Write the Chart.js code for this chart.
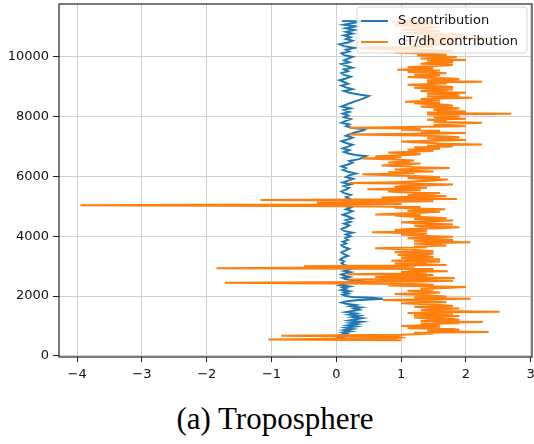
<!DOCTYPE html>
<html>
<head>
<meta charset="utf-8">
<script src="https://cdn.jsdelivr.net/npm/chart.js@4.4.1/dist/chart.umd.min.js"></script>
<style>
  html, body { margin: 0; padding: 0; background: #fff; }
  #wrap { position: relative; width: 534px; height: 444px; }
  #c { position: absolute; left: 0; top: 0; }
  #caption {
    position: absolute; left: 0; width: 550px; top: 401px;
    text-align: center; font-family: "Liberation Serif", serif; font-size: 31px; color: #000;
  }
</style>
</head>
<body>
<div id="wrap">
  <canvas id="c" width="534" height="382"></canvas>
  <div id="caption">(a) Troposphere</div>
</div>
<script>
// S contribution (blue): [height m, value]
const sProfile = [
  [500, 0.10], [540, 0.08], [580, 0.12], [620, 0.05], [660, 0.14], [700, 0.08], [740, 0.16], [780, 0.10], [820, 0.22], [860, 0.12],
  [900, 0.25], [940, 0.15], [980, 0.30], [1020, 0.18], [1060, 0.32], [1100, 0.22], [1140, 0.38], [1180, 0.20], [1220, 0.30], [1260, 0.40],
  [1300, 0.25], [1340, 0.35], [1380, 0.20], [1420, 0.30], [1460, 0.15], [1500, 0.25], [1540, 0.35], [1580, 0.28], [1620, 0.38], [1660, 0.22],
  [1700, 0.30], [1740, 0.15], [1780, 0.08], [1820, 0.15], [1860, 0.30], [1890, 0.60], [1910, 0.72], [1940, 0.55], [1970, 0.25], [2000, 0.15],
  [2040, 0.10], [2080, 0.18], [2120, 0.12], [2160, 0.20], [2200, 0.08], [2240, 0.15], [2280, 0.10], [2320, 0.20], [2360, 0.06], [2400, 0.12],
  [2440, 0.22], [2480, 0.45], [2520, 0.30], [2560, 0.15], [2600, 0.10], [2640, 0.20], [2680, 0.12], [2720, 0.08], [2760, 0.15], [2800, 0.22],
  [2840, 0.12], [2880, 0.18], [2920, 0.25], [2960, 0.38], [3000, 0.20], [3040, 0.12], [3100, 0.08], [3160, 0.12], [3220, 0.06], [3280, 0.10],
  [3340, 0.18], [3400, 0.12], [3460, 0.08], [3520, 0.14], [3580, 0.20], [3640, 0.12], [3700, 0.08], [3760, 0.15], [3820, 0.10], [3880, 0.18],
  [3940, 0.14], [4000, 0.22], [4060, 0.15], [4120, 0.25], [4180, 0.12], [4240, 0.08], [4300, 0.15], [4360, 0.20], [4420, 0.12], [4480, 0.22],
  [4540, 0.15], [4600, 0.25], [4660, 0.18], [4720, 0.10], [4780, 0.18], [4840, 0.25], [4900, 0.15], [4960, 0.22], [5020, 0.12], [5080, 0.25],
  [5140, 0.18], [5200, 0.10], [5260, 0.20], [5320, 0.15], [5380, 0.22], [5440, 0.12], [5500, 0.08], [5560, 0.15], [5620, 0.20], [5680, 0.12],
  [5740, 0.22], [5800, 0.10], [5860, 0.18], [5920, 0.26], [5980, 0.15], [6040, 0.20], [6100, 0.30], [6160, 0.18], [6220, 0.10], [6280, 0.15],
  [6340, 0.08], [6400, 0.18], [6460, 0.25], [6520, 0.20], [6580, 0.35], [6640, 0.42], [6680, 0.46], [6720, 0.30], [6760, 0.20], [6820, 0.12],
  [6880, 0.20], [6940, 0.10], [7000, 0.18], [7060, 0.25], [7120, 0.15], [7180, 0.08], [7240, 0.18], [7300, 0.25], [7360, 0.15], [7420, 0.22],
  [7480, 0.30], [7540, 0.42], [7580, 0.45], [7620, 0.25], [7680, 0.15], [7740, 0.20], [7800, 0.08], [7860, 0.15], [7920, 0.22], [7980, 0.12],
  [8040, 0.18], [8100, 0.10], [8160, 0.20], [8220, 0.12], [8280, 0.22], [8340, 0.08], [8400, 0.15], [8460, 0.22], [8520, 0.30], [8580, 0.38],
  [8640, 0.45], [8690, 0.50], [8740, 0.35], [8800, 0.20], [8860, 0.12], [8920, 0.25], [8980, 0.15], [9040, 0.08], [9100, 0.18], [9160, 0.12],
  [9220, 0.05], [9280, 0.15], [9340, 0.22], [9400, 0.12], [9460, 0.08], [9520, 0.18], [9580, 0.12], [9640, 0.25], [9700, 0.15], [9760, 0.08],
  [9820, 0.20], [9880, 0.12], [9940, 0.18], [10000, 0.25], [10060, 0.12], [10120, 0.08], [10180, 0.20], [10240, 0.15], [10300, 0.28], [10360, 0.12],
  [10420, 0.05], [10480, 0.18], [10540, 0.25], [10600, 0.15], [10660, 0.22], [10720, 0.12], [10780, 0.25], [10840, 0.15], [10900, 0.28], [10960, 0.15],
  [11020, 0.30], [11080, 0.12], [11140, 0.28], [11190, 0.37], [11200, 0.09]
];

// dT/dh contribution (orange): [height m, value]
const tProfile = [
  [520, 1.00], [545, -1.05], [585, 0.90], [610, 1.00], [630, 0.95], [670, -0.85], [705, 1.00], [730, 1.30], [750, 1.50], [775, 1.20],
  [800, 2.35], [825, 1.50], [850, 1.40], [875, 1.90], [900, 1.80], [925, 1.10], [950, 1.30], [975, 1.60], [1000, 1.00], [1025, 1.40],
  [1050, 1.60], [1070, 1.30], [1090, 1.90], [1110, 1.50], [1130, 2.26], [1155, 1.30], [1180, 1.40], [1205, 1.90], [1230, 1.80], [1255, 1.40],
  [1280, 1.20], [1305, 1.60], [1330, 1.90], [1355, 1.20], [1380, 1.50], [1405, 1.80], [1430, 1.10], [1450, 1.50], [1470, 2.52], [1495, 1.60],
  [1520, 1.30], [1550, 1.50], [1580, 1.90], [1610, 1.40], [1640, 1.20], [1670, 1.80], [1700, 1.60], [1730, 1.30], [1760, 1.00], [1790, 1.70],
  [1820, 1.50], [1845, 1.20], [1870, 0.72], [1890, 1.50], [1910, 2.07], [1935, 1.40], [1960, 1.20], [1985, 1.70], [2010, 1.50], [2040, 1.20],
  [2070, 0.90], [2095, 1.40], [2120, 1.60], [2150, 1.30], [2180, 1.10], [2210, 1.50], [2240, 1.30], [2270, 1.70], [2300, 2.00], [2325, 1.30],
  [2350, 0.80], [2375, 1.50], [2400, 1.20], [2440, -1.72], [2470, 0.40], [2490, 1.30], [2510, 1.80], [2530, 1.10], [2550, 0.20], [2575, 1.20],
  [2600, 1.83], [2620, 1.30], [2640, 0.60], [2660, 1.40], [2680, 1.00], [2705, 1.50], [2730, 0.17], [2755, 1.10], [2780, 1.40], [2805, 1.00],
  [2830, 1.72], [2855, 1.30], [2880, 1.10], [2905, 1.50], [2930, -1.85], [2960, 0.30], [2980, 1.20], [3000, -0.50], [3020, 1.00], [3040, 1.70],
  [3065, 1.30], [3090, 0.90], [3110, 1.40], [3130, 1.20], [3155, 1.60], [3180, 0.85], [3205, 1.20], [3230, 1.60], [3255, 1.10], [3280, 1.00],
  [3305, 1.50], [3330, 1.40], [3350, 1.10], [3370, 0.95], [3395, 1.40], [3420, 1.50], [3445, 1.00], [3470, 0.90], [3500, 1.50], [3530, 1.30],
  [3565, 1.00], [3600, 0.60], [3630, 1.40], [3660, 1.20], [3690, 1.70], [3720, 1.50], [3760, 1.20], [3800, 2.07], [3825, 1.40], [3850, 1.20],
  [3875, 1.80], [3900, 1.60], [3930, 1.10], [3960, 1.30], [3980, 1.80], [4000, 1.50], [4030, 1.20], [4060, 1.00], [4095, 1.40], [4130, 0.55],
  [4155, 1.20], [4180, 1.40], [4210, 0.90], [4240, 1.10], [4270, 1.60], [4300, 1.90], [4330, 1.30], [4360, 1.20], [4390, 1.80], [4420, 1.60],
  [4445, 1.20], [4470, 1.00], [4500, 1.50], [4530, 1.80], [4555, 1.40], [4580, 1.20], [4605, 1.70], [4630, 1.50], [4660, 1.10], [4690, 0.90],
  [4710, 1.30], [4730, 0.60], [4760, 1.00], [4790, 1.30], [4820, 1.60], [4850, 1.10], [4875, 1.40], [4900, 1.68], [4925, 1.20], [4950, 0.90],
  [4975, 1.30], [5000, 0.20], [5040, -3.95], [5080, 1.00], [5120, -0.30], [5170, 1.50], [5210, -1.17], [5250, 1.86], [5275, 1.30], [5300, 0.70],
  [5325, 1.20], [5350, 1.70], [5375, 1.10], [5400, 1.20], [5425, 1.50], [5450, 1.60], [5475, 1.00], [5500, 0.80], [5535, 1.30], [5570, 0.48],
  [5595, 1.10], [5620, 1.40], [5650, 0.90], [5680, 1.00], [5705, 1.50], [5730, 1.80], [5755, 1.20], [5780, 0.20], [5805, 0.90], [5830, 1.20],
  [5865, 1.50], [5900, 1.72], [5925, 1.30], [5950, 1.10], [5975, 1.60], [6000, 1.40], [6035, 0.90], [6070, 0.40], [6095, 1.00], [6120, 1.20],
  [6145, 0.80], [6170, 1.50], [6200, 1.10], [6230, 0.90], [6255, 1.30], [6280, 1.75], [6305, 1.20], [6330, 1.14], [6365, 0.70], [6400, 1.00],
  [6435, 1.30], [6470, 0.80], [6500, 1.10], [6530, 1.20], [6565, 0.90], [6600, 0.40], [6625, 0.80], [6650, 1.00], [6675, 0.60], [6700, 0.90],
  [6725, 1.20], [6750, 1.30], [6775, 1.00], [6800, 0.80], [6830, 1.20], [6860, 1.50], [6895, 1.10], [6930, 1.60], [6955, 1.30], [6980, 1.20],
  [7005, 1.80], [7030, 1.40], [7050, 1.70], [7070, 2.25], [7095, 1.60], [7120, 1.50], [7145, 1.20], [7170, 1.00], [7195, 1.50], [7220, 2.00],
  [7250, 1.60], [7280, 1.40], [7310, 1.90], [7340, 1.70], [7370, 1.30], [7400, 0.20], [7425, 1.20], [7450, 2.00], [7475, 1.50], [7500, 1.30],
  [7530, 1.60], [7560, 1.00], [7595, 1.30], [7630, 0.20], [7655, 1.10], [7680, 2.00], [7710, 1.50], [7740, 1.60], [7770, 1.90], [7800, 2.25],
  [7830, 1.50], [7860, 1.70], [7895, 1.40], [7930, 2.00], [7955, 1.60], [7980, 1.50], [8010, 1.90], [8040, 1.80], [8070, 1.40], [8100, 2.70],
  [8120, 1.60], [8140, 1.40], [8155, 1.80], [8170, 2.00], [8200, 1.60], [8230, 1.50], [8255, 1.80], [8280, 1.90], [8310, 1.50], [8340, 1.30],
  [8370, 1.80], [8400, 1.70], [8425, 1.40], [8450, 1.20], [8475, 1.60], [8500, 1.06], [8530, 1.40], [8560, 1.60], [8595, 1.30], [8630, 2.10],
  [8655, 1.60], [8680, 1.40], [8710, 1.90], [8740, 1.80], [8770, 1.40], [8800, 2.00], [8830, 1.60], [8860, 1.30], [8890, 1.70], [8920, 1.80],
  [8945, 1.40], [8970, 1.20], [8995, 1.80], [9020, 1.60], [9045, 1.30], [9070, 1.10], [9095, 1.50], [9120, 1.70], [9145, 1.40], [9170, 2.25],
  [9195, 1.60], [9220, 1.40], [9250, 1.90], [9280, 1.80], [9305, 1.40], [9330, 1.10], [9355, 1.50], [9380, 1.60], [9405, 1.20], [9430, 1.30],
  [9450, 1.70], [9470, 1.50], [9495, 1.10], [9520, 1.20], [9545, 1.60], [9570, 0.94], [9595, 1.40], [9620, 1.50], [9650, 1.10], [9680, 1.30],
  [9710, 1.70], [9740, 1.80], [9770, 1.30], [9800, 1.40], [9825, 1.80], [9850, 1.70], [9875, 1.40], [9900, 2.00], [9925, 1.60], [9950, 1.30],
  [9975, 1.70], [10000, 1.86], [10025, 1.50], [10050, 1.25], [10075, 1.70], [10100, 1.50], [10125, 1.20], [10150, 0.90], [10175, 1.40], [10200, 1.80],
  [10225, 1.50], [10250, 1.20], [10275, 0.70], [10300, 0.35], [10325, 1.00], [10350, 1.50], [10385, 1.20], [10420, 1.90], [10450, 1.50], [10480, 1.40],
  [10510, 1.80], [10540, 1.00], [10580, 1.60], [10620, 2.48], [10650, 1.70], [10680, 1.30], [10710, 1.60], [10740, 2.00], [10770, 1.50], [10800, 1.10],
  [10830, 1.40], [10860, 1.60], [10890, 1.30], [10920, 1.00], [10955, 1.40], [10990, 1.50], [11025, 1.20], [11060, 0.90], [11090, 1.30], [11120, 1.60],
  [11145, 1.20], [11170, 0.85], [11195, 1.10], [11220, 1.40]
];

const xTicks = [-4, -3, -2, -1, 0, 1, 2, 3];
const yTicks = [0, 2000, 4000, 6000, 8000, 10000];
const seriesNames = ['S contribution', 'dT/dh contribution'];
const seriesColors = ['#1f77b4', '#ff7f0e'];

const toPoints = prof => prof.map(([h, v]) => ({ x: v, y: h }));

// full box around the axes, like matplotlib spines
const frame = {
  id: 'frame',
  afterDatasetsDraw(chart) {
    const { ctx, chartArea: a } = chart;
    ctx.save();
    ctx.strokeStyle = '#222';
    ctx.lineWidth = 1.2;
    ctx.strokeRect(a.left, a.top, a.right - a.left, a.bottom - a.top);
    ctx.restore();
  }
};

// legend box in the upper right, drawn inside the axes
const boxLegend = {
  id: 'boxLegend',
  afterDatasetsDraw(chart) {
    const { ctx, chartArea: a } = chart;
    const w = 170, h = 46;
    const x0 = a.right - w - 5, y0 = a.top + 3;
    ctx.save();
    ctx.beginPath();
    ctx.roundRect(x0, y0, w, h, 3);
    ctx.fillStyle = 'rgba(255,255,255,0.8)';
    ctx.fill();
    ctx.strokeStyle = 'rgba(204,204,204,0.8)';
    ctx.lineWidth = 1;
    ctx.stroke();
    ctx.font = '13px "DejaVu Sans"';
    ctx.textBaseline = 'middle';
    seriesNames.forEach((name, i) => {
      const yy = y0 + 14 + i * 21;
      ctx.strokeStyle = seriesColors[i];
      ctx.lineWidth = 2;
      ctx.beginPath();
      ctx.moveTo(x0 + 4, yy);
      ctx.lineTo(x0 + 31, yy);
      ctx.stroke();
      ctx.fillStyle = '#111';
      ctx.fillText(name, x0 + 41, yy);
    });
    ctx.restore();
  }
};

new Chart(document.getElementById('c'), {
  type: 'scatter',
  data: {
    datasets: [
      { label: seriesNames[0], data: toPoints(sProfile), showLine: true, borderColor: seriesColors[0],
        borderWidth: 2, pointRadius: 0, order: 2 },
      { label: seriesNames[1], data: toPoints(tProfile), showLine: true, borderColor: seriesColors[1],
        borderWidth: 2, pointRadius: 0, order: 1 }
    ]
  },
  options: {
    responsive: false,
    animation: false,
    layout: { padding: { top: 4, right: 2, left: 0, bottom: 0 } },
    plugins: { legend: { display: false }, tooltip: { enabled: false } },
    scales: {
      x: {
        type: 'linear', min: -4.28, max: 3.02,
        afterBuildTicks: s => { s.ticks = xTicks.map(v => ({ value: v })); },
        afterFit: s => { s.height = 25; s.paddingLeft = 0; s.paddingRight = 0; },
        ticks: { color: '#111', font: { family: 'DejaVu Sans', size: 13 }, padding: 5,
          callback: v => String(v).replace('-', '\u2212') },
        grid: { color: '#cfcfcf', lineWidth: 1, tickColor: '#222', tickLength: 5 },
        border: { display: false }
      },
      y: {
        type: 'linear', min: -40, max: 11770,
        afterBuildTicks: s => { s.ticks = yTicks.map(v => ({ value: v })); },
        afterFit: s => { s.width = 59; s.paddingTop = 0; s.paddingBottom = 0; },
        ticks: { color: '#111', font: { family: 'DejaVu Sans', size: 13 }, padding: 4,
          callback: v => String(v) },
        grid: { color: '#cfcfcf', lineWidth: 1, tickColor: '#222', tickLength: 6 },
        border: { display: false }
      }
    }
  },
  plugins: [frame, boxLegend]
});
</script>
</body>
</html>
